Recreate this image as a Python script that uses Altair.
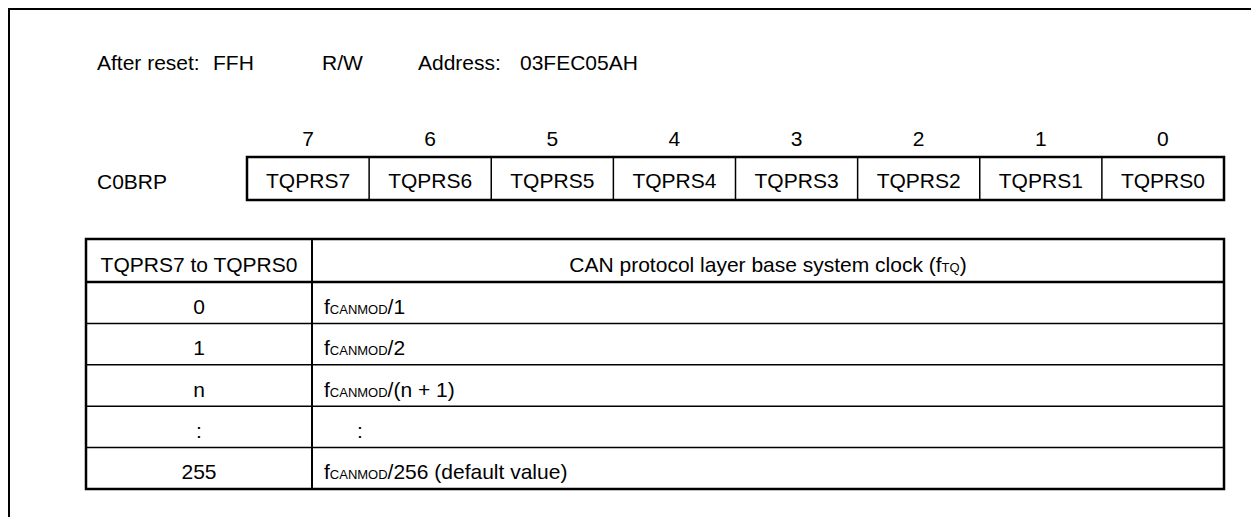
import altair as alt
import pandas as pd

# ---------------- data ----------------
bit_numbers = [7, 6, 5, 4, 3, 2, 1, 0]
bit_names = ["TQPRS7", "TQPRS6", "TQPRS5", "TQPRS4", "TQPRS3", "TQPRS2", "TQPRS1", "TQPRS0"]
header_items = ["After reset:", "FFH", "R/W", "Address:", "03FEC05AH"]
register_name = "C0BRP"
col1_header = "TQPRS7 to TQPRS0"
col2_header = ["CAN protocol layer base system clock (f", "TQ", ")"]
setting_values = ["0", "1", "n", ":", "255"]
clock_main = ["f", "f", "f", "", "f"]
clock_sub = ["CANMOD", "CANMOD", "CANMOD", "", "CANMOD"]
clock_rest = ["/1", "/2", "/(n + 1)", ":", "/256 (default value)"]

# ---------------- layout (page pixel coordinates) ----------------
FONT = "Liberation Sans"
FS = 21
FS_SUB = 13
header_x = [97, 213, 322, 418, 520]
HEADER_BASE = 69.5
REG_LEFT, REG_RIGHT, REG_TOP, REG_BOT = 247, 1224, 157, 200
BIT_BASE = 146
REG_TEXT_BASE = 188
NAME_X = 97
TAB_LEFT, TAB_DIV, TAB_RIGHT, TAB_TOP, TAB_HEAD, TAB_BOT = 86, 312, 1224, 239, 282, 489
TEXT_PAD = 12
COLON_INDENT = 33

# Arial / Liberation Sans advance widths (per 1000 em)
W = {' ': 278, '(': 333, ')': 333, '/': 278, '+': 584, ':': 278,
     'A': 667, 'B': 667, 'C': 722, 'D': 722, 'E': 667, 'F': 611, 'H': 722, 'L': 556,
     'M': 833, 'N': 722, 'O': 778, 'P': 667, 'Q': 778, 'R': 722, 'S': 667, 'T': 611, 'W': 944,
     'a': 556, 'b': 556, 'c': 500, 'd': 556, 'e': 556, 'f': 278, 'k': 500, 'l': 222,
     'm': 833, 'n': 556, 'o': 556, 'p': 556, 'r': 333, 's': 500, 't': 278, 'u': 556,
     'v': 500, 'y': 500}


def tw(s, size):
    return sum(W.get(ch, 556) for ch in s) * size / 1000.0


XS = alt.Scale(domain=[8, 1251], nice=False, zero=False)
YS = alt.Scale(domain=[8, 517], nice=False, zero=False, reverse=True)


def enc_xy(x2=False, y2=False):
    e = dict(x=alt.X("x:Q", scale=XS, axis=None), y=alt.Y("y:Q", scale=YS, axis=None))
    if x2:
        e["x2"] = alt.X2("x2:Q")
    if y2:
        e["y2"] = alt.Y2("y2:Q")
    return e


def text_layer(df, align="left", size=FS):
    return alt.Chart(df).mark_text(align=align, baseline="alphabetic", font=FONT,
                                   fontSize=size, color="black").encode(
        text="t:N", **enc_xy())


def rules(df, width):
    return alt.Chart(df).mark_rule(color="black", strokeWidth=width).encode(
        **enc_xy(x2=True, y2=True))


layers = []

# outer frame (top and left edges)
frame = pd.DataFrame({"x": [8, 9], "x2": [1251, 9], "y": [9, 8], "y2": [9, 517]})
layers.append(rules(frame, 2))

# header line
layers.append(text_layer(pd.DataFrame({"x": header_x, "y": [HEADER_BASE] * len(header_items),
                                       "t": header_items})))

# register name
layers.append(text_layer(pd.DataFrame({"x": [NAME_X], "y": [REG_TEXT_BASE + 1], "t": [register_name]})))

# register cells
cw = (REG_RIGHT - REG_LEFT) / len(bit_names)
centers = [REG_LEFT + cw * (i + 0.5) for i in range(len(bit_names))]
layers.append(text_layer(pd.DataFrame({"x": centers, "y": [BIT_BASE] * 8,
                                       "t": [str(b) for b in bit_numbers]}), align="center"))
layers.append(text_layer(pd.DataFrame({"x": centers, "y": [REG_TEXT_BASE] * 8, "t": bit_names}),
                         align="center"))
divs = [REG_LEFT + cw * i for i in range(1, 8)]
layers.append(rules(pd.DataFrame({"x": divs, "x2": divs, "y": [REG_TOP] * 7, "y2": [REG_BOT] * 7}), 1.5))
layers.append(alt.Chart(pd.DataFrame({"x": [REG_LEFT], "x2": [REG_RIGHT], "y": [REG_TOP], "y2": [REG_BOT]}))
              .mark_rect(filled=False, stroke="black", strokeWidth=2.5).encode(**enc_xy(True, True)))

# table
nrows = len(setting_values)
rh = (TAB_BOT - TAB_HEAD) / nrows
row_lines = [TAB_HEAD + rh * i for i in range(1, nrows)]
layers.append(rules(pd.DataFrame({"x": [TAB_LEFT] * len(row_lines), "x2": [TAB_RIGHT] * len(row_lines),
                                  "y": row_lines, "y2": row_lines}), 1.5))
layers.append(rules(pd.DataFrame({"x": [TAB_LEFT], "x2": [TAB_RIGHT], "y": [TAB_HEAD], "y2": [TAB_HEAD]}), 2.5))
layers.append(rules(pd.DataFrame({"x": [TAB_DIV], "x2": [TAB_DIV], "y": [TAB_TOP], "y2": [TAB_BOT]}), 2))
layers.append(alt.Chart(pd.DataFrame({"x": [TAB_LEFT], "x2": [TAB_RIGHT], "y": [TAB_TOP], "y2": [TAB_BOT]}))
              .mark_rect(filled=False, stroke="black", strokeWidth=2.5).encode(**enc_xy(True, True)))

# table header texts
head_base = (TAB_TOP + TAB_HEAD) / 2 + 11
c1 = (TAB_LEFT + TAB_DIV) / 2
c2 = (TAB_DIV + TAB_RIGHT) / 2
layers.append(text_layer(pd.DataFrame({"x": [c1], "y": [head_base], "t": [col1_header]}), align="center"))
sizes = [FS, FS_SUB, FS]
total = sum(tw(s, z) for s, z in zip(col2_header, sizes))
xpos = c2 - total / 2
for s, z in zip(col2_header, sizes):
    layers.append(text_layer(pd.DataFrame({"x": [xpos], "y": [head_base], "t": [s]}), size=z))
    xpos += tw(s, z)

# table rows
row_base = [TAB_HEAD + rh * (i + 0.5) + 11 for i in range(nrows)]
layers.append(text_layer(pd.DataFrame({"x": [c1] * nrows, "y": row_base, "t": setting_values}), align="center"))
x_main, x_sub, x_rest = [], [], []
for m, s, r in zip(clock_main, clock_sub, clock_rest):
    x0 = TAB_DIV + TAB_PAD if False else TAB_DIV + TEXT_PAD
    if m == "" and s == "":
        x0 += COLON_INDENT
    x_main.append(x0)
    x_sub.append(x0 + tw(m, FS))
    x_rest.append(x0 + tw(m, FS) + tw(s, FS_SUB))
layers.append(text_layer(pd.DataFrame({"x": x_main, "y": row_base, "t": clock_main})))
layers.append(text_layer(pd.DataFrame({"x": x_sub, "y": row_base, "t": clock_sub}), size=FS_SUB))
layers.append(text_layer(pd.DataFrame({"x": x_rest, "y": row_base, "t": clock_rest})))

chart = alt.layer(*layers).properties(
    width=1243, height=509, padding=0, autosize="none", background="white"
).configure_view(stroke=None)

chart.save("out.html", embed_options={"renderer": "svg", "actions": False})
